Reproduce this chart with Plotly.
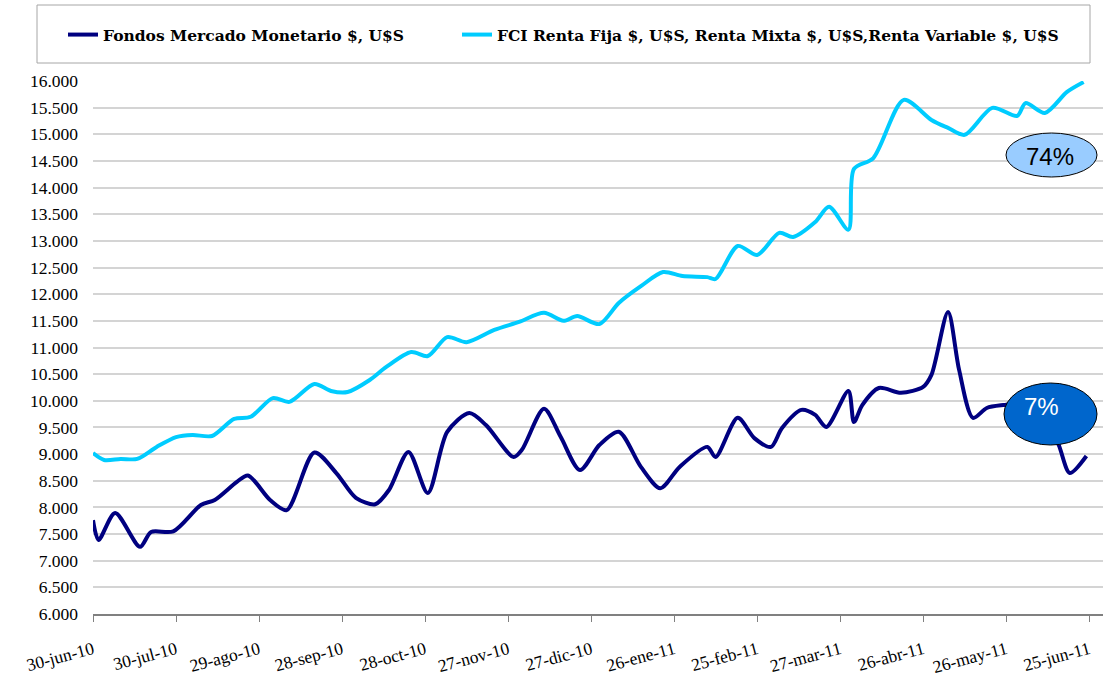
import plotly.graph_objects as go

# ---- data ----
money_dates = ["2010-06-30", "2010-07-02", "2010-07-08", "2010-07-17", "2010-07-21", "2010-07-29",
               "2010-08-08", "2010-08-13", "2010-08-21", "2010-08-25", "2010-09-02", "2010-09-08",
               "2010-09-18", "2010-09-26", "2010-10-03", "2010-10-10", "2010-10-15", "2010-10-22",
               "2010-10-29", "2010-11-05", "2010-11-13", "2010-11-19", "2010-11-29", "2010-12-02",
               "2010-12-10", "2010-12-16", "2010-12-23", "2010-12-30", "2011-01-06", "2011-01-14",
               "2011-01-21", "2011-01-28", "2011-02-07", "2011-02-10", "2011-02-18", "2011-02-24",
               "2011-03-02", "2011-03-06", "2011-03-13", "2011-03-18", "2011-03-22", "2011-03-30",
               "2011-04-01", "2011-04-04", "2011-04-10", "2011-04-18", "2011-04-26", "2011-04-29",
               "2011-05-05", "2011-05-09", "2011-05-14", "2011-05-19", "2011-05-25", "2011-06-02",
               "2011-06-09", "2011-06-14", "2011-06-18", "2011-06-24"]
money_values = [7760, 7390, 7895, 7260, 7540, 7550,
                8045, 8140, 8480, 8600, 8140, 7950,
                9030, 8640, 8180, 8060, 8330, 9040,
                8270, 9415, 9770, 9545, 8945, 9080,
                9850, 9325, 8700, 9170, 9420, 8760,
                8360, 8760, 9135, 8945, 9680, 9300,
                9135, 9490, 9830, 9735, 9510, 10185,
                9600, 9920, 10240, 10150, 10260, 10485,
                11665, 10580, 9680, 9865, 9920, 9950,
                9700, 9170, 8645, 8965]

fci_dates = ["2010-06-30", "2010-07-04", "2010-07-10", "2010-07-16", "2010-07-23", "2010-07-30",
             "2010-08-05", "2010-08-12", "2010-08-20", "2010-08-26", "2010-09-03", "2010-09-09",
             "2010-09-18", "2010-09-24", "2010-09-30", "2010-10-08", "2010-10-14", "2010-10-23",
             "2010-10-29", "2010-11-05", "2010-11-12", "2010-11-22", "2010-12-01", "2010-12-10",
             "2010-12-17", "2010-12-22", "2010-12-30", "2011-01-06", "2011-01-14", "2011-01-22",
             "2011-01-29", "2011-02-07", "2011-02-10", "2011-02-18", "2011-02-25", "2011-03-05",
             "2011-03-10", "2011-03-18", "2011-03-23", "2011-03-30", "2011-04-01", "2011-04-08",
             "2011-04-19", "2011-04-29", "2011-05-05", "2011-05-11", "2011-05-21", "2011-05-30",
             "2011-06-02", "2011-06-09", "2011-06-17", "2011-06-23"]
fci_values = [9020, 8890, 8910, 8910, 9135, 9320,
              9360, 9340, 9660, 9700, 10050, 9980,
              10315, 10185, 10165, 10390, 10635, 10915,
              10840, 11195, 11100, 11330, 11480, 11650,
              11500, 11590, 11440, 11835, 12150, 12415,
              12340, 12320, 12285, 12905, 12735, 13150,
              13075, 13355, 13640, 13210, 14350, 14555,
              15645, 15270, 15120, 14990, 15495, 15345,
              15585, 15400, 15795, 15980]

tick_dates = ["2010-06-30", "2010-07-30", "2010-08-29", "2010-09-28", "2010-10-28", "2010-11-27",
              "2010-12-27", "2011-01-26", "2011-02-25", "2011-03-27", "2011-04-26", "2011-05-26",
              "2011-06-25"]
tick_labels = ["30-jun-10", "30-jul-10", "29-ago-10", "28-sep-10", "28-oct-10", "27-nov-10",
               "27-dic-10", "26-ene-11", "25-feb-11", "27-mar-11", "26-abr-11", "26-may-11",
               "25-jun-11"]

name_money = "Fondos Mercado Monetario $, U$S"
name_fci = "FCI Renta Fija $, U$S, Renta Mixta $, U$S,Renta Variable $, U$S"
label_fci = "74%"
label_money = "7%"

SERIF = "Palatino Linotype, Book Antiqua, Liberation Serif, serif"
LEGEND_FONT = dict(family="DejaVu Serif", size=15.5, color="black", weight="bold")

fig = go.Figure()
fig.add_trace(go.Scatter(x=money_dates, y=money_values, mode="lines", name=name_money,
                         legend="legend",
                         line=dict(color="#000080", width=4, shape="spline", smoothing=0.8)))
fig.add_trace(go.Scatter(x=fci_dates, y=fci_values, mode="lines", name=name_fci,
                         legend="legend2",
                         line=dict(color="#00CCFF", width=4, shape="spline", smoothing=0.8)))

W, H = 1108, 679
L, R, T, B = 93, 5, 81, 65
pw, ph = W - L - R, H - T - B

def px(x):
    return (x - L) / pw

def py(y):
    return (H - B - y) / ph

legend_common = dict(orientation="h", xanchor="left", yanchor="middle",
                     xref="container", yref="container",
                     font=LEGEND_FONT, bgcolor="rgba(0,0,0,0)", borderwidth=0, itemwidth=30)

fig.update_layout(
    width=W, height=H,
    margin=dict(l=L, r=R, t=T, b=B, autoexpand=False),
    paper_bgcolor="white", plot_bgcolor="white",
    separators=",.",
    showlegend=True,
    legend=dict(x=63 / W, y=1 - 35 / H, **legend_common),
    legend2=dict(x=457 / W, y=1 - 35 / H, **legend_common),
    xaxis=dict(range=["2010-06-30", "2011-06-30"], tickmode="array", tickvals=tick_dates,
               ticktext=tick_labels, tickangle=-15, showgrid=False, showline=True,
               linecolor="#808080", linewidth=1.5, ticks="outside", ticklen=6, tickcolor="#808080",
               ticklabelstandoff=11, automargin=False,
               tickfont=dict(family=SERIF, size=17.5, color="black"), zeroline=False),
    yaxis=dict(range=[6000, 16000], dtick=500, tickformat=",.0f", showgrid=True,
               gridcolor="#D4D4D4", gridwidth=1.5, showline=False, zeroline=False, ticks="",
               ticklabelstandoff=14, automargin=False,
               tickfont=dict(family=SERIF, size=17.5, color="black")),
    shapes=[
        dict(type="rect", xref="paper", yref="paper", x0=px(37), x1=px(1090), y0=py(63), y1=py(5),
             line=dict(color="#A6A6A6", width=1), fillcolor="rgba(0,0,0,0)", layer="below"),
        dict(type="circle", xref="paper", yref="paper", x0=px(1006), x1=px(1097), y0=py(177), y1=py(133),
             line=dict(color="black", width=1), fillcolor="#99CCFF", layer="above"),
        dict(type="circle", xref="paper", yref="paper", x0=px(1004), x1=px(1097), y0=py(445), y1=py(383),
             line=dict(color="black", width=1), fillcolor="#0066CC", layer="above"),
    ],
    annotations=[
        dict(text=label_fci, xref="paper", yref="paper", x=px(1050), y=py(156),
             xanchor="center", yanchor="middle", showarrow=False,
             font=dict(family="Liberation Sans, Arial, sans-serif", size=24, color="black")),
        dict(text=label_money, xref="paper", yref="paper", x=px(1041), y=py(407),
             xanchor="center", yanchor="middle", showarrow=False,
             font=dict(family="Liberation Sans, Arial, sans-serif", size=24, color="white")),
    ],
)

fig.write_html("out.html", config={"displayModeBar": False},
               post_script="document.body.style.margin='0';document.body.style.overflow='hidden';")
